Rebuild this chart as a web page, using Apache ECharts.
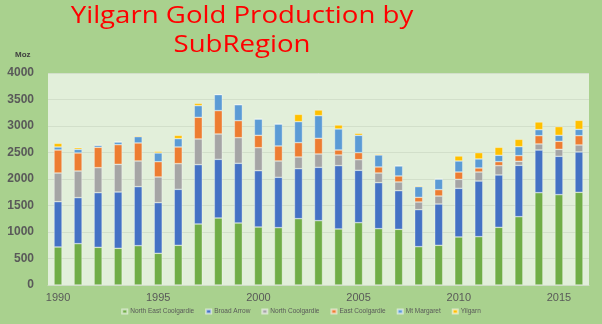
<!DOCTYPE html>
<html><head><meta charset="utf-8">
<script src="https://cdn.jsdelivr.net/npm/echarts@6/dist/echarts.min.js"></script>
<style>html,body{margin:0;padding:0;background:#a9d18e;}#c{width:602px;height:324px;}</style>
</head><body><div id="c"></div>
<script>
const years = ['1990','1991','1992','1993','1994','1995','1996','1997','1998','1999','2000','2001','2002','2003','2004','2005','2006','2007','2008','2009','2010','2011','2012','2013','2014','2015','2016'];
const northEastCoolgardie = [717,780,711,692,742,598,749,1151,1264,1170,1094,1082,1252,1214,1057,1176,1063,1050,723,749,906,912,1088,1289,1742,1705,1749];
const broadArrow = [855,868,1031,1063,1114,956,1056,1120,1107,1126,1063,950,943,1006,1195,988,868,730,699,779,918,1050,988,969,805,723,761];
const northCoolgardie = [541,503,472,522,484,484,485,484,478,484,434,308,220,252,201,201,182,164,144,151,170,170,176,76,114,132,132];
const eastCoolgardie = [434,340,384,371,340,289,314,409,441,321,233,283,271,296,94,132,114,113,88,120,138,76,75,107,157,151,176];
const mtMargaret = [57,69,37,50,119,164,157,220,302,302,308,415,396,427,397,327,226,189,202,201,208,170,120,169,113,113,119];
const yilgarn = [69,31,13,7,19,31,63,44,6,0,0,0,138,107,75,38,19,12,18,0,94,119,151,139,145,164,170];
const titleLines = ['Yilgarn Gold Production by', 'SubRegion'];

const seriesDefs = [
  ['North East Coolgardie', northEastCoolgardie, '#70ad47'],
  ['Broad Arrow', broadArrow, '#4472c4'],
  ['North Coolgardie', northCoolgardie, '#a5a5a5'],
  ['East Coolgardie', eastCoolgardie, '#ed7d31'],
  ['Mt Margaret', mtMargaret, '#5b9bd5'],
  ['Yilgarn', yilgarn, '#ffc000']
];

const titleStyle = { fontFamily: 'Open Sans', fontSize: 23, fill: '#ff0000', textAlign: 'center', textVerticalAlign: 'middle' };
const chart = echarts.init(document.getElementById('c'));
chart.setOption({
  backgroundColor: '#a9d18e',
  animation: false,
  graphic: [
    { type: 'text', x: 242, y: 16, scaleX: 1.2, style: Object.assign({ text: titleLines[0] }, titleStyle) },
    { type: 'text', x: 242, y: 45, scaleX: 1.2, style: Object.assign({ text: titleLines[1] }, titleStyle) },
    { type: 'text', left: 15, top: 51, style: { text: 'Moz', fontSize: 8, fontWeight: 'bold', fill: '#404040', fontFamily: 'Liberation Sans' } }
  ],
  legend: {
    bottom: 4, left: 'center', itemWidth: 5, itemHeight: 4, itemGap: 11,
    icon: 'rect',
    textStyle: { fontSize: 6.5, color: '#595959', fontFamily: 'Liberation Sans', padding: [0,0,0,-2] },
    data: seriesDefs.map(s => s[0])
  },
  grid: { left: 48, right: 13, top: 73, bottom: 39, show: true, backgroundColor: '#e2efda', borderWidth: 0 },
  xAxis: {
    type: 'category', data: years,
    axisLine: { lineStyle: { color: '#d0dcc8' } },
    axisTick: { show: false },
    axisLabel: { interval: 4, color: '#595959', fontSize: 11, fontFamily: 'Liberation Sans', margin: 7 }
  },
  yAxis: {
    type: 'value', min: 0, max: 4000, interval: 500,
    axisLine: { show: false }, axisTick: { show: false },
    splitLine: { lineStyle: { color: '#d2dfca', width: 1 } },
    axisLabel: { color: '#595959', fontSize: 12, fontWeight: 'bold', fontFamily: 'Liberation Sans', margin: 14, formatter: v => String(v) }
  },
  series: seriesDefs.map(s => ({
    name: s[0], type: 'bar', stack: 'total', data: s[1], barWidth: 8,
    itemStyle: { color: s[2], borderColor: 'rgba(255,255,255,0.55)', borderWidth: 0.6 }
  }))
});
</script></body></html>
